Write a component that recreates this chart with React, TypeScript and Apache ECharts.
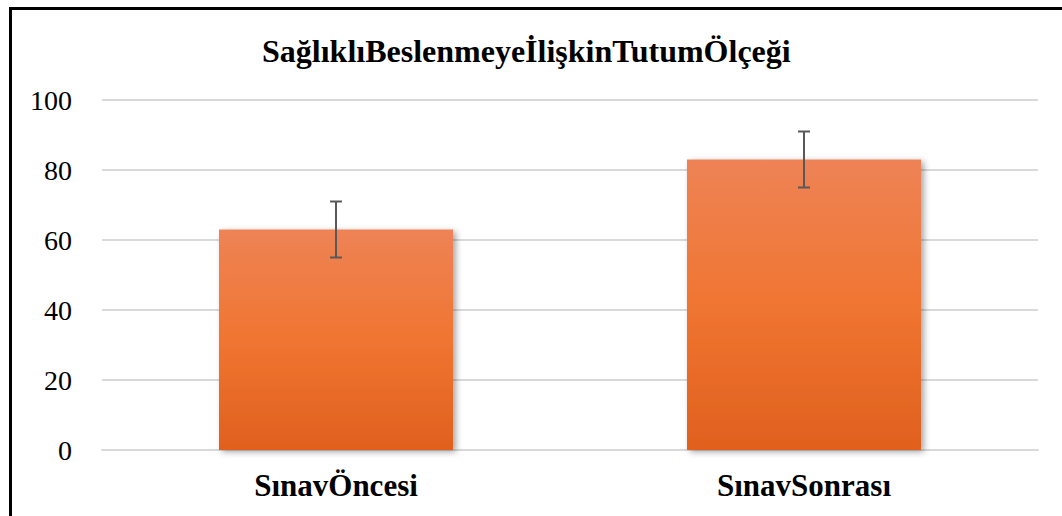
import React, { useEffect, useRef } from "react";
import * as echarts from "echarts";

const titleText = "SağlıklıBeslenmeyeİlişkinTutumÖlçeği";
const categories = ["SınavÖncesi", "SınavSonrası"];
const means = [63, 83];
const errLow = [55, 75];
const errHigh = [71, 91];
const yMin = 0;
const yMax = 100;
const yInterval = 20;

const serif = '"Liberation Serif", "Times New Roman", Times, serif';

export default function App() {
  const ref = useRef<HTMLDivElement>(null);
  useEffect(() => {
    document.body.style.margin = "0";
    document.body.style.overflow = "hidden";
    const chart = echarts.init(ref.current!, null, { renderer: "svg" });
    const errData = categories.map((_, i) => [i, errLow[i], errHigh[i]]);
    chart.setOption({
      animation: false,
      backgroundColor: "#ffffff",
      textStyle: { fontFamily: serif },
      title: {
        text: titleText,
        left: 257,
        top: 30,
        textStyle: {
          fontFamily: serif,
          fontWeight: "bold",
          fontSize: 32,
          color: "#000000",
        },
      },
      graphic: [
        {
          type: "rect",
          shape: { x: 10.5, y: 8.5, width: 1200, height: 700 },
          style: { fill: "none", stroke: "#000000", lineWidth: 3 },
          silent: true,
        },
      ],
      grid: { left: 102, right: 24, top: 100, bottom: 66 },
      xAxis: {
        type: "category",
        data: categories,
        axisTick: { show: false },
        axisLine: { show: true, lineStyle: { color: "#D9D9D9", width: 2 } },
        axisLabel: {
          fontFamily: serif,
          fontWeight: "bold",
          fontSize: 31,
          color: "#000000",
          margin: 20,
        },
      },
      yAxis: {
        type: "value",
        min: yMin,
        max: yMax,
        interval: yInterval,
        axisLine: { show: false },
        axisTick: { show: false },
        splitLine: { lineStyle: { color: "#D9D9D9", width: 2 } },
        axisLabel: {
          fontFamily: serif,
          fontSize: 28,
          color: "#000000",
          margin: 30,
        },
      },
      series: [
        {
          type: "bar",
          data: means,
          barWidth: "50%",
          itemStyle: {
            color: new echarts.graphic.LinearGradient(0, 0, 0, 1, [
              { offset: 0, color: "#EE8356" },
              { offset: 0.5, color: "#F07531" },
              { offset: 1, color: "#E0601E" },
            ]),
            shadowColor: "rgba(0,0,0,0.35)",
            shadowBlur: 6,
            shadowOffsetX: 3,
            shadowOffsetY: 2,
          },
        },
        {
          type: "custom",
          data: errData,
          z: 10,
          renderItem: (params: any, api: any) => {
            const x = api.value(0);
            const lo = api.coord([x, api.value(1)]);
            const hi = api.coord([x, api.value(2)]);
            const half = 6;
            const style = { stroke: "#595959", lineWidth: 2 };
            return {
              type: "group",
              children: [
                { type: "line", shape: { x1: lo[0], y1: lo[1], x2: hi[0], y2: hi[1] }, style },
                { type: "line", shape: { x1: hi[0] - half, y1: hi[1], x2: hi[0] + half, y2: hi[1] }, style },
                { type: "line", shape: { x1: lo[0] - half, y1: lo[1], x2: lo[0] + half, y2: lo[1] }, style },
              ],
            };
          },
        },
      ],
    });
    return () => chart.dispose();
  }, []);
  return <div ref={ref} style={{ width: 1062, height: 516 }} />;
}
